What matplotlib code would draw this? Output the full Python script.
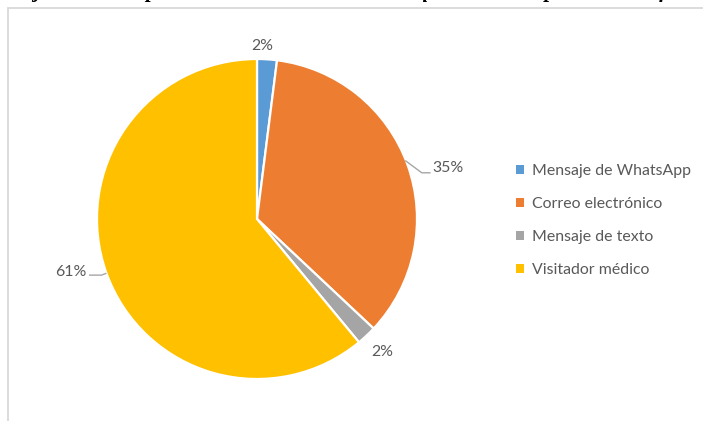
import numpy as np
import matplotlib
matplotlib.use("Agg")
import matplotlib.pyplot as plt
from matplotlib.patches import Rectangle

# Data
categories = ["Mensaje de WhatsApp", "Correo electrónico", "Mensaje de texto", "Visitador médico"]
values = [2, 35, 2, 61]
colors = ["#5B9BD5", "#ED7D31", "#A5A5A5", "#FFC000"]
title_text = "trabaja con usted por el medio de comunicación que a usted le parece más eficaz y fe"

W, H = 703, 421
fig = plt.figure(figsize=(W / 100, H / 100), dpi=100)
fig.patch.set_facecolor("white")

# Caption line above the chart frame (only its lower part falls inside the page)
fig.text(-12 / W, 1 + 3.5 / H, title_text, family="Liberation Serif",
         fontsize=15.5, fontweight="bold", fontstyle="italic",
         color="black", va="baseline", ha="left")

# Chart frame
frame = Rectangle((8 / W, -0.1), 1.2, 1 - 8 / H + 0.1, transform=fig.transFigure,
                  facecolor="white", edgecolor="#D9D9D9", linewidth=1.3, zorder=0)
fig.add_artist(frame)

# Pie axes: radius 163 px, centre at (257, 219) px from top-left
R = 163.0
cx, cy = 257.0, 219.0
half = 200.0
ax = fig.add_axes([(cx - half) / W, (H - cy - half) / H, 2 * half / W, 2 * half / H])
lim = half / R
ax.set_xlim(-lim, lim)
ax.set_ylim(-lim, lim)
ax.set_aspect("equal")
ax.axis("off")

wedges, _ = ax.pie(values, colors=colors, startangle=90, counterclock=False,
                   radius=1.0, wedgeprops=dict(edgecolor="white", linewidth=1.6))

# Percentage labels
label_color = "#595959"
line_color = "#A6A6A6"
fs = 11.4
font = "Lato"
total = sum(values)
angles = []
a0 = 90.0
for v in values:
    span = 360.0 * v / total
    angles.append(np.deg2rad(a0 - span / 2))
    a0 -= span

labels = [f"{v}%" for v in values]

# WhatsApp (top, no leader)
t = angles[0]
ax.text(1.09 * np.cos(t) - 0.035, 1.085 * np.sin(t), labels[0], ha="center", va="center",
        fontsize=fs, family=font, color=label_color)

# Correo electrónico (leader line to the right)
t = angles[1]
ex, ey = np.cos(t), np.sin(t)
ax.plot([ex * 0.99 - 0.005, 1.03, 1.085], [ey * 0.99 + 0.03, ey - 0.05, ey - 0.05],
        color=line_color, lw=1.0, solid_capstyle="butt")
ax.text(1.095, ey - 0.02, labels[1], ha="left", va="center",
        fontsize=fs, family=font, color=label_color)

# Mensaje de texto (below right, no leader)
t = angles[2]
ax.text(1.13 * np.cos(t) + 0.01, 1.13 * np.sin(t) - 0.005, labels[2], ha="center", va="center",
        fontsize=fs, family=font, color=label_color)

# Visitador médico (leader line to the left)
t = angles[3]
ex, ey = np.cos(t), np.sin(t)
ax.plot([ex, ex - 0.03, -1.05], [ey, ey - 0.012, ey - 0.012],
        color=line_color, lw=1.0, solid_capstyle="butt")
ax.text(-1.065, ey + 0.01, labels[3], ha="right", va="center",
        fontsize=fs, family=font, color=label_color)

# Legend
leg = fig.legend(wedges, categories, loc="upper left",
                 bbox_to_anchor=(502 / W, 1 - 150 / H),
                 frameon=False, handlelength=0.5, handleheight=0.5,
                 handletextpad=0.5, labelspacing=1.2,
                 prop=dict(family=font, size=fs))
for txt in leg.get_texts():
    txt.set_color(label_color)
for h in leg.legend_handles:
    h.set_edgecolor("none")

fig.savefig("out.png", dpi=100, facecolor="white")
